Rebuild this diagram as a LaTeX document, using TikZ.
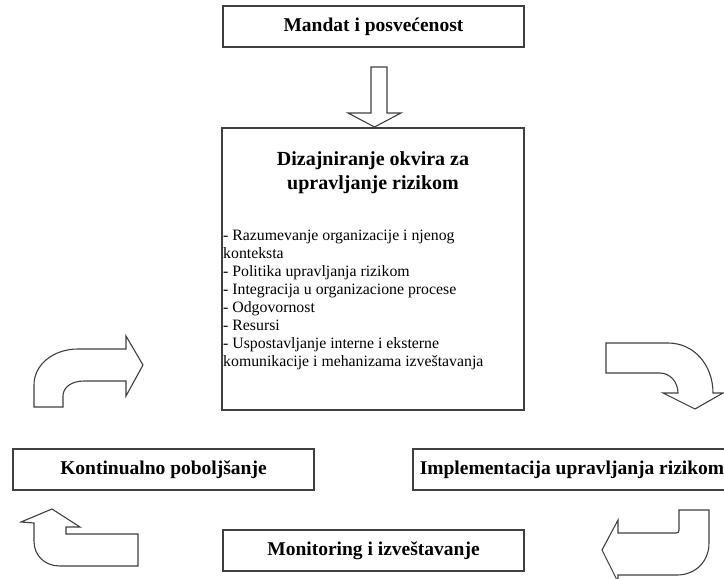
\documentclass[tikz,border=0pt]{standalone}
\usepackage{fontspec}
\setmainfont{Liberation Serif}
\begin{document}
\begin{tikzpicture}[x=1pt,y=-1pt,
  box/.style={draw=black!75,line width=1.5pt,fill=white,inner sep=0pt,
    font=\fontsize{19.5}{22}\selectfont\bfseries},
  blockarrow/.style={draw=black!75,line width=1.1pt,fill=white,line join=miter}]
\useasboundingbox (0,0) rectangle (724,579);
\clip (0,0) rectangle (724,579);

% boxes of the cycle
\node[box,minimum width=301pt,minimum height=41pt] (mandat) at (373.5,26.5) {Mandat i posvećenost};
\node[box,minimum width=302pt,minimum height=282pt,anchor=north] (dizajn) at (373,127) {};
\node[box,minimum width=301pt,minimum height=41pt] (kont) at (163.5,469.5) {Kontinualno poboljšanje};
\node[box,minimum width=318pt,minimum height=41pt] (impl) at (572,469.5) {Implementacija upravljanja rizikom};
\node[box,minimum width=301pt,minimum height=41pt] (monit) at (373.5,550.5) {Monitoring i izveštavanje};

% contents of the design box
\node[anchor=north,align=center,inner sep=0pt,
  font=\fontsize{20}{24}\selectfont\bfseries] (naslov) at (373,151)
  {Dizajniranje okvira za\\upravljanje rizikom};
\node[anchor=north west,align=left,inner sep=0pt,
  font=\fontsize{15.8}{18}\selectfont] (stavke) at (223,230)
  {- Razumevanje organizacije i njenog\\
   konteksta\\
   - Politika upravljanja rizikom\\
   - Integracija u organizacione procese\\
   - Odgovornost\\
   - Resursi\\
   - Uspostavljanje interne i eksterne\\
   komunikacije i mehanizama izveštavanja};

% block arrows
\draw[blockarrow] (371,67) -- (387,67) -- (387,113) -- (401,113) -- (374.5,127)
  -- (348,113) -- (371,113) -- cycle;
\draw[blockarrow] (34,407) -- (34,385) .. controls (34,364) and (54,349) .. (78,349)
  -- (126,349) -- (126,336) -- (143,365) -- (126,396) -- (126,381) -- (84,381)
  .. controls (72,381) and (63,387) .. (63,396) -- (63,407) -- cycle;
\draw[blockarrow] (138,534) -- (138,566) -- (60,566)
  .. controls (45,566) and (34,556) .. (34,541) -- (34,523) -- (21,522)
  -- (52,509) -- (80,527) -- (66,527) -- (66,534) -- cycle;
\draw[blockarrow] (606,343) -- (668,343) .. controls (694,343) and (713,365) .. (713,393)
  -- (723,393) -- (695,409) -- (663,393) -- (678,393)
  .. controls (678,382) and (670,373) .. (660,373) -- (606,373) -- cycle;
\draw[blockarrow] (679,510) -- (709,510) -- (709,543)
  .. controls (709,562) and (695,575) .. (677,575) -- (618,575) -- (618,582)
  -- (602,550) -- (618,520) -- (618,533) -- (676,533)
  .. controls (678,533) and (679,532) .. (679,530) -- cycle;
\end{tikzpicture}
\end{document}
